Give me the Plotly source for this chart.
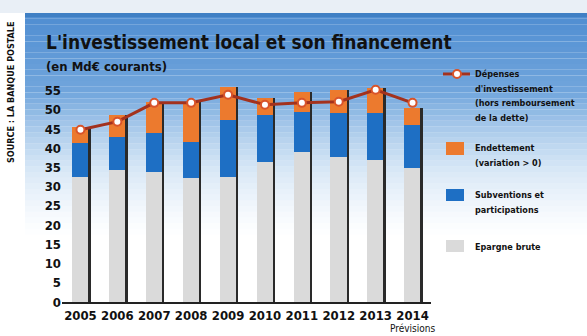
import plotly.graph_objects as go

# ---------------- data (Md€ courants) ----------------
years = ["2005", "2006", "2007", "2008", "2009", "2010", "2011", "2012", "2013", "2014"]
epargne_brute = [32.6, 34.4, 33.9, 32.3, 32.6, 36.5, 39.0, 37.8, 37.0, 34.9]
subventions = [8.8, 8.6, 10.1, 9.4, 14.8, 12.2, 10.5, 11.4, 12.2, 11.2]
endettement = [4.2, 5.7, 8.0, 10.3, 8.6, 4.4, 5.2, 6.0, 6.5, 4.4]
depenses = [44.8, 46.9, 51.8, 51.8, 53.9, 51.3, 51.8, 52.1, 55.2, 51.8]
y_ticks = [0, 5, 10, 15, 20, 25, 30, 35, 40, 45, 50, 55]

title_text = "L'investissement local et son financement"
subtitle_text = "(en Md€ courants)"
source_text = "SOURCE : LA BANQUE POSTALE"
legend_depenses = ["Dépenses", "d'investissement", "(hors remboursement", "de la dette)"]
legend_endettement = ["Endettement", "(variation > 0)"]
legend_subventions = ["Subventions et", "participations"]
legend_epargne = ["Epargne brute"]

# ---------------- geometry ----------------
W, H = 587, 336
L, R, T, B = 62, 156, 79, 34
PW, PH = W - L - R, H - T - B


def px(xp):
    return (xp - L) / PW


def py(yp):
    return (H - B - yp) / PH


NARROW = "DejaVu Sans Condensed, Liberation Sans Narrow, Arial Narrow, sans-serif"
C_GRAY = "#dadada"
C_BLUE = "#1e6fc4"
C_ORANGE = "#ec7a2e"
C_LINE = "#a3321e"
C_SHADOW = "#2a2a2a"

xs = list(range(len(years)))
totals = [e + s + d for e, s, d in zip(epargne_brute, subventions, endettement)]

fig = go.Figure()
fig.add_bar(x=xs, y=epargne_brute, width=0.45, marker=dict(color=C_GRAY, line=dict(width=0)),
            name="Epargne brute", showlegend=False)
fig.add_bar(x=xs, y=subventions, width=0.45, marker=dict(color=C_BLUE, line=dict(width=0)),
            name="Subventions et participations", showlegend=False)
fig.add_bar(x=xs, y=endettement, width=0.45, marker=dict(color=C_ORANGE, line=dict(width=0)),
            name="Endettement", showlegend=False)
# dark edge on the right of each bar
fig.add_bar(x=[i + 0.25 for i in xs], y=totals, width=0.05,
            marker=dict(color=C_SHADOW, line=dict(width=0)), showlegend=False, hoverinfo="skip")
fig.add_scatter(x=xs, y=depenses, mode="lines+markers",
                line=dict(color=C_LINE, width=3),
                marker=dict(size=8, color="white", line=dict(color="#d9542a", width=2)),
                showlegend=False, name="Dépenses d'investissement")

shapes = []
# light top strip
shapes.append(dict(type="rect", xref="paper", yref="paper", x0=px(0), x1=px(W), y0=py(13), y1=py(0),
                   fillcolor="#e9eff6", line=dict(width=0), layer="below"))
# blue gradient panel
top, bottom = 13, 240
n = 40
for k in range(n):
    y0 = top + (bottom - top) * k / n
    y1 = top + (bottom - top) * (k + 1) / n
    t = k / (n - 1)
    if t < 0.35:
        a = 1.0
    else:
        a = max(0.0, 1.0 - (t - 0.35) / 0.65) ** 1.3
    r = int(80 + (150 - 80) * min(1, t / 0.7))
    g = int(142 + (192 - 142) * min(1, t / 0.7))
    b = int(210 + (232 - 210) * min(1, t / 0.7))
    shapes.append(dict(type="rect", xref="paper", yref="paper", x0=px(25), x1=px(W),
                       y0=py(y1), y1=py(y0), fillcolor=f"rgba({r},{g},{b},{a:.3f})",
                       line=dict(width=0), layer="below"))
# darker top border of panel
shapes.append(dict(type="rect", xref="paper", yref="paper", x0=px(25), x1=px(W), y0=py(17), y1=py(13),
                   fillcolor="#3f7fc4", line=dict(width=0), layer="below"))

# legend swatches
shapes.append(dict(type="line", xref="paper", yref="paper", x0=px(443), x1=px(470), y0=py(74), y1=py(74),
                   line=dict(color=C_LINE, width=3)))
shapes.append(dict(type="circle", xref="paper", yref="paper", x0=px(453), x1=px(461), y0=py(78), y1=py(70),
                   fillcolor="white", line=dict(color="#d9542a", width=2)))
shapes.append(dict(type="rect", xref="paper", yref="paper", x0=px(446), x1=px(464), y0=py(155), y1=py(142),
                   fillcolor=C_ORANGE, line=dict(width=0)))
shapes.append(dict(type="rect", xref="paper", yref="paper", x0=px(446), x1=px(464), y0=py(201), y1=py(189),
                   fillcolor=C_BLUE, line=dict(width=0)))
shapes.append(dict(type="rect", xref="paper", yref="paper", x0=px(446), x1=px(464), y0=py(252), y1=py(240),
                   fillcolor=C_GRAY, line=dict(width=0)))

LEG_FONT = dict(family=NARROW, size=9, color="#111", weight="bold")
annotations = [
    dict(text=title_text, xref="paper", yref="paper", x=px(44), y=py(42), xanchor="left", yanchor="middle",
         showarrow=False, font=dict(family=NARROW, size=19, color="#111", weight="bold")),
    dict(text=subtitle_text, xref="paper", yref="paper", x=px(44), y=py(66), xanchor="left", yanchor="middle",
         showarrow=False, font=dict(family=NARROW, size=13, color="#111", weight="bold")),
    dict(text=source_text, xref="paper", yref="paper", x=px(11), y=py(92), xanchor="center", yanchor="middle",
         textangle=-90, showarrow=False, font=dict(family=NARROW, size=9, color="#111", weight="bold")),
    dict(text="Prévisions", xref="x", yref="paper", x=xs[-1], y=py(328), xanchor="center", yanchor="middle",
         showarrow=False, font=dict(family=NARROW, size=10, color="#111")),
]


def legend_lines(lines, y_first, step=14.5):
    for j, line in enumerate(lines):
        annotations.append(dict(text=line, xref="paper", yref="paper", x=px(473), y=py(y_first + j * step),
                                xanchor="left", yanchor="middle", align="left", showarrow=False,
                                font=LEG_FONT))


legend_lines(legend_depenses, 74)
legend_lines(legend_endettement, 148)
legend_lines(legend_subventions, 195)
legend_lines(legend_epargne, 247)

fig.update_layout(
    width=W, height=H,
    margin=dict(l=L, r=R, t=T, b=B, pad=0),
    paper_bgcolor="white",
    plot_bgcolor="rgba(0,0,0,0)",
    barmode="stack",
    showlegend=False,
    shapes=shapes,
    annotations=annotations,
    xaxis=dict(range=[-0.5, 9.5], tickvals=xs, ticktext=years, showgrid=False, zeroline=False,
               showline=True, linecolor="#222", linewidth=2, ticks="",
               tickfont=dict(family=NARROW, size=13, color="#111", weight="bold"), fixedrange=True),
    yaxis=dict(range=[0, 58], tickvals=y_ticks, showgrid=False, zeroline=False, showline=False, ticks="",
               tickfont=dict(family=NARROW, size=13, color="#111", weight="bold"), fixedrange=True),
)

fig.write_html("out.html")
